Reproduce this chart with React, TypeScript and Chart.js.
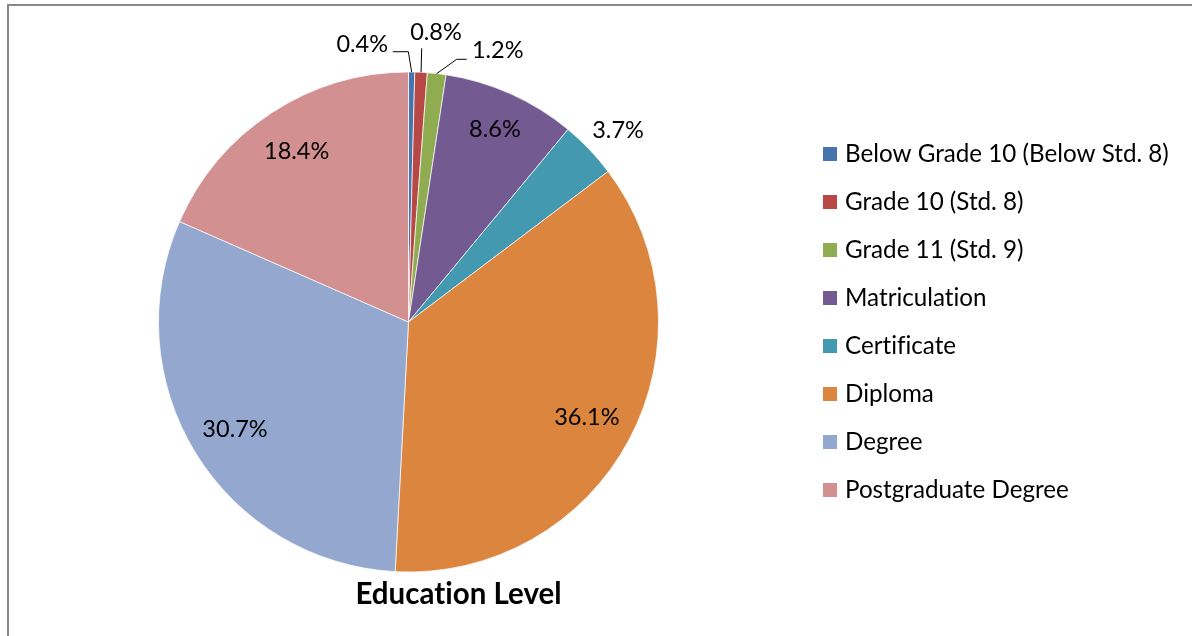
import React, { useEffect, useRef } from "react";
import { Chart, registerables } from "chart.js";

Chart.register(...registerables);

// ---- data ----
const categories = [
  "Below Grade 10 (Below Std. 8)",
  "Grade 10 (Std. 8)",
  "Grade 11 (Std. 9)",
  "Matriculation",
  "Certificate",
  "Diploma",
  "Degree",
  "Postgraduate Degree",
];
const shares = [0.4, 0.8, 1.2, 8.6, 3.7, 36.1, 30.7, 18.4];
const chartTitle = "Education Level";

// ---- styles ----
const sliceColors = [
  "#4674AE",
  "#B84845",
  "#8FAD50",
  "#735A91",
  "#4399B0",
  "#DC853E",
  "#94A8CF",
  "#D29190",
];
const FONT = "Lato, 'Open Sans', sans-serif";
const LABEL_FONT = `23.5px ${FONT}`;
const LEGEND_FONT = `24.2px ${FONT}`;
const TITLE_FONT = `bold 29.5px ${FONT}`;

// label placement: inside labels use a radius factor; outside labels are placed
// relative to the outer midpoint of their slice (leader polyline + text anchor)
type Layout =
  | { inside: number }
  | { pts: number[][]; text: number[]; align: CanvasTextAlign };
const labelLayout: Layout[] = [
  { pts: [[-3.3, -20.3], [-18.9, -20.3]], text: [-23.6, -20], align: "right" },
  { pts: [[0.6, -24]], text: [14.9, -32.3], align: "center" },
  { pts: [[19.9, -14.3], [29.9, -14.3]], text: [35.2, -15.6], align: "left" },
  { inside: 0.845 },
  { pts: [], text: [28.8, -11.5], align: "center" },
  { inside: 0.808 },
  { inside: 0.815 },
  { inside: 0.818 },
];

const decorPlugin = {
  id: "decor",
  beforeDraw(chart: any) {
    const ctx = chart.ctx as CanvasRenderingContext2D;
    ctx.save();
    ctx.fillStyle = "#ffffff";
    ctx.fillRect(0, 0, chart.width, chart.height);
    ctx.strokeStyle = "#878787";
    ctx.lineWidth = 2;
    ctx.beginPath();
    ctx.moveTo(8, chart.height);
    ctx.lineTo(8, 5);
    ctx.lineTo(chart.width, 5);
    ctx.stroke();
    ctx.restore();
  },
  afterDatasetsDraw(chart: any) {
    const ctx = chart.ctx as CanvasRenderingContext2D;
    const meta = chart.getDatasetMeta(0);
    const values: number[] = chart.data.datasets[0].data;
    ctx.save();
    ctx.fillStyle = "#000";
    ctx.strokeStyle = "#000";
    ctx.lineWidth = 1;
    ctx.font = LABEL_FONT;
    meta.data.forEach((arc: any, i: number) => {
      const mid = (arc.startAngle + arc.endAngle) / 2;
      const txt = values[i].toFixed(1) + "%";
      const lay = labelLayout[i];
      if ("inside" in lay) {
        const r = arc.outerRadius * lay.inside;
        const x = arc.x + Math.cos(mid) * r;
        const y = arc.y + Math.sin(mid) * r;
        ctx.textAlign = "center";
        ctx.textBaseline = "alphabetic";
        ctx.fillText(txt, x, y + 8);
      } else {
        const px = arc.x + Math.cos(mid) * arc.outerRadius;
        const py = arc.y + Math.sin(mid) * arc.outerRadius;
        if (lay.pts.length) {
          ctx.beginPath();
          ctx.moveTo(px, py);
          lay.pts.forEach((p) => ctx.lineTo(px + p[0], py + p[1]));
          ctx.stroke();
        }
        ctx.textAlign = lay.align;
        ctx.textBaseline = "alphabetic";
        ctx.fillText(txt, px + lay.text[0], py + lay.text[1]);
      }
    });
    ctx.restore();
  },
  afterDraw(chart: any) {
    const ctx = chart.ctx as CanvasRenderingContext2D;
    const ds = chart.data.datasets[0];
    ctx.save();
    try {
      (ctx as any).textRendering = "optimizeSpeed";
    } catch (e) {}
    ctx.font = LEGEND_FONT;
    ctx.textAlign = "left";
    ctx.textBaseline = "alphabetic";
    (chart.data.labels as string[]).forEach((lab, i) => {
      const cy = 154 + 48 * i;
      ctx.fillStyle = ds.backgroundColor[i];
      ctx.fillRect(823, cy - 7, 14, 14);
      ctx.fillStyle = "#000";
      ctx.fillText(lab, 845, cy + 7.5);
    });
    ctx.font = TITLE_FONT;
    ctx.textAlign = "center";
    ctx.fillStyle = "#000";
    ctx.fillText(chartTitle, 458.5, 603.5);
    ctx.restore();
  },
};

export default function App() {
  const ref = useRef<HTMLCanvasElement | null>(null);
  useEffect(() => {
    if (!ref.current) return;
    const chart = new Chart(ref.current, {
      type: "pie",
      data: {
        labels: categories,
        datasets: [
          {
            data: shares,
            backgroundColor: sliceColors,
            borderColor: "rgba(255,255,255,0.7)",
            borderWidth: 1,
          },
        ],
      },
      options: {
        responsive: false,
        animation: false,
        radius: 250,
        layout: { padding: { left: 0, right: 375, top: 8, bottom: 0 } },
        plugins: {
          legend: { display: false },
          title: { display: false },
          tooltip: { enabled: false },
        },
      } as any,
      plugins: [decorPlugin],
    });
    return () => chart.destroy();
  }, []);
  return (
    <div style={{ position: "absolute", left: 0, top: 0, width: 1192, height: 636 }}>
      <canvas ref={ref} width={1192} height={636} style={{ display: "block" }} />
    </div>
  );
}
